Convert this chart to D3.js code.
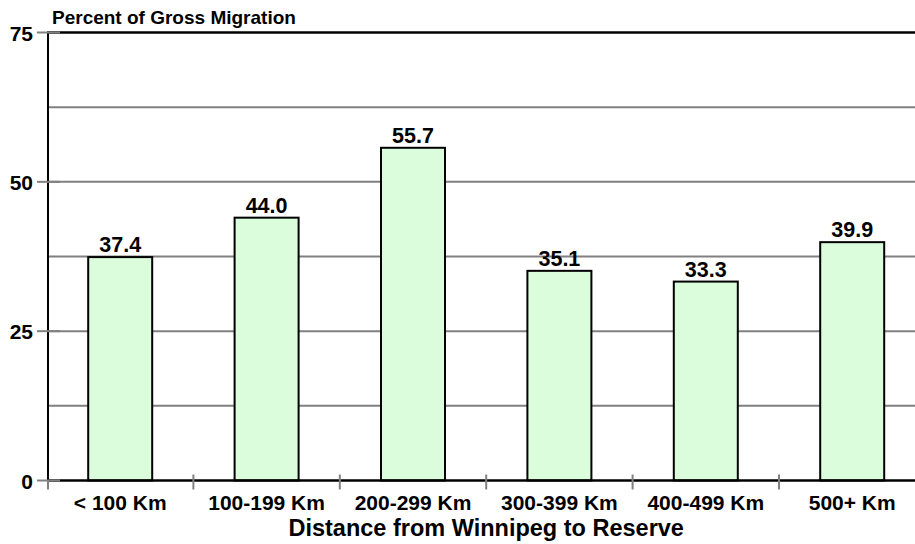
<!DOCTYPE html>
<html>
<head>
<meta charset="utf-8">
<script src="https://cdn.jsdelivr.net/npm/d3@7"></script>
<style>
  body { margin: 0; background: #fff; }
  svg { display: block; font-family: "Liberation Sans", Arial, sans-serif; font-weight: bold; }
</style>
</head>
<body>
<div id="chart"></div>
<script>
const categories = ['< 100 Km', '100-199 Km', '200-299 Km', '300-399 Km', '400-499 Km', '500+ Km'];
const values = [37.4, 44.0, 55.7, 35.1, 33.3, 39.9];
const yTicks = [0, 25, 50, 75];
const yGrid = [12.5, 25, 37.5, 50, 62.5];

const W = 915, H = 544;
const svg = d3.select('#chart').append('svg').attr('width', W).attr('height', H);

// 坐标范围
const x0 = 47, x1 = 925.4, yTop = 32.5, yBot = 480.5;
const x = d3.scaleBand().domain(categories).range([x0, x1]).padding(0);
const y = d3.scaleLinear().domain([0, 75]).range([yBot, yTop]);
const barW = 64;

// 网格线
svg.append('g').selectAll('line').data(yGrid).enter().append('line')
  .attr('x1', x0).attr('x2', W)
  .attr('y1', d => y(d)).attr('y2', d => y(d))
  .attr('stroke', '#808080').attr('stroke-width', 2);

// 柱子
svg.append('g').selectAll('rect').data(values).enter().append('rect')
  .attr('x', (d, i) => x(categories[i]) + x.bandwidth() / 2 - barW / 2)
  .attr('y', d => y(d))
  .attr('width', barW)
  .attr('height', d => y(0) - y(d))
  .attr('fill', '#dcfddc')
  .attr('stroke', '#000').attr('stroke-width', 2);

// 数值标签
svg.append('g').selectAll('text').data(values).enter().append('text')
  .attr('x', (d, i) => x(categories[i]) + x.bandwidth() / 2)
  .attr('y', d => y(d) - 5)
  .attr('text-anchor', 'middle')
  .attr('font-size', 21.5)
  .text(d => d.toFixed(1));

// 轴线
svg.append('line').attr('x1', x0 + 1).attr('x2', x0 + 1).attr('y1', yTop).attr('y2', yBot)
  .attr('stroke', '#000').attr('stroke-width', 2);
svg.append('line').attr('x1', x0).attr('x2', W).attr('y1', yTop).attr('y2', yTop)
  .attr('stroke', '#000').attr('stroke-width', 2.5);
svg.append('line').attr('x1', x0).attr('x2', W).attr('y1', yBot).attr('y2', yBot)
  .attr('stroke', '#000').attr('stroke-width', 2.5);

// y 刻度
const yt = svg.append('g').selectAll('g').data(yTicks).enter().append('g');
yt.append('line').attr('x1', 37).attr('x2', 60)
  .attr('y1', d => y(d)).attr('y2', d => y(d))
  .attr('stroke', '#808080').attr('stroke-width', 2);
yt.append('text').attr('x', 33).attr('y', d => y(d) + 8)
  .attr('text-anchor', 'end').attr('font-size', 21)
  .text(d => d);
svg.append('line').attr('x1', x0 + 1).attr('x2', x0 + 1).attr('y1', yBot).attr('y2', yBot + 9)
  .attr('stroke', '#808080').attr('stroke-width', 2);

// x 刻度
svg.append('g').selectAll('line').data(categories.slice(1)).enter().append('line')
  .attr('x1', d => x(d)).attr('x2', d => x(d))
  .attr('y1', yBot - 6).attr('y2', yBot + 9)
  .attr('stroke', '#808080').attr('stroke-width', 2);

svg.append('g').selectAll('text').data(categories).enter().append('text')
  .attr('x', d => x(d) + x.bandwidth() / 2)
  .attr('y', 510)
  .attr('text-anchor', 'middle').attr('font-size', 21)
  .text(d => d);

// 标题
svg.append('text').attr('x', (x0 + x1) / 2).attr('y', 536)
  .attr('text-anchor', 'middle').attr('font-size', 23.5)
  .text('Distance from Winnipeg to Reserve');
svg.append('text').attr('x', 52).attr('y', 24)
  .attr('font-size', 19)
  .text('Percent of Gross Migration');
</script>
</body>
</html>
